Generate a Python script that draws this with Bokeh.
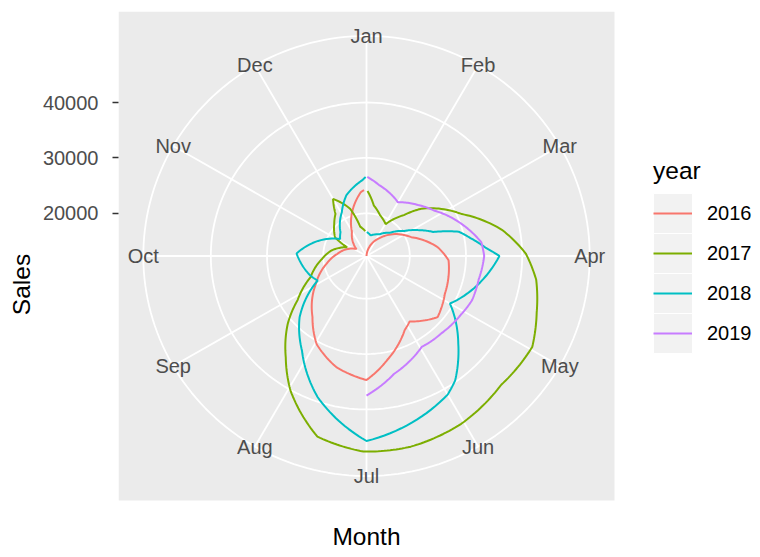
import numpy as np
from bokeh.plotting import figure
from bokeh.models import Range1d, LinearAxis, FixedTicker, Legend, LegendItem
from bokeh.core.properties import value
from bokeh.embed import file_html
from bokeh.resources import INLINE

# ---------------- data ----------------
month_labels = ["Jan", "Feb", "Mar", "Apr", "May", "Jun",
                "Jul", "Aug", "Sep", "Oct", "Nov", "Dec"]
years = ["2016", "2017", "2018", "2019"]
colors = ["#F8766D", "#7CAE00", "#00BFC4", "#C77CFF"]
sales_breaks = [20000, 30000, 40000]

month_2016 = [1.10, 2.23, 3.23, 3.77, 4.10, 4.87, 5.37, 5.90, 6.10, 6.63, 7.00,
              7.50, 7.97, 8.37, 9.03, 9.63, 10.13, 11.17, 11.97, 12.40, 12.83, 12.93]
sales_2016 = [12300, 16450, 20960, 25120, 26920, 27820, 29090, 26380, 27280, 31430, 34680,
              33060, 30530, 26920, 22590, 19520, 17530, 14470, 17350, 20600, 23850, 24210]

month_2017 = [1.03, 1.27, 1.60, 2.02, 2.40, 2.63, 3.20, 3.63, 3.97, 4.27, 4.62, 4.97,
              5.47, 6.03, 6.57, 7.03, 7.50, 7.97, 8.27, 8.63, 8.90, 9.30, 9.87, 10.30,
              10.82, 11.03, 11.50, 11.80, 12.00, 12.37, 12.60, 12.90]
sales_2017 = [24030, 21510, 20060, 18980, 22230, 25300, 30890, 36850, 40640, 42800, 44250, 46050,
              45690, 46960, 47600, 47600, 46050, 40100, 35580, 30890, 26920, 22950, 20240, 18620,
              16090, 18800, 20420, 21690, 24210, 21330, 17720, 16810]

month_2018 = [1.03, 1.37, 2.00, 2.50, 2.87, 3.10, 3.33, 3.50, 3.67, 3.87, 4.00, 5.00,
              5.47, 5.83, 6.00, 7.00, 7.63, 8.13, 8.57, 9.10, 9.37, 10.07, 11.10, 11.43,
              12.03, 12.40, 12.90, 12.98]
sales_2018 = [16630, 16090, 16810, 18260, 20420, 22590, 24940, 29270, 31070, 33600, 35950, 29450,
              35040, 39740, 41180, 45690, 39190, 32880, 28550, 22050, 22950, 24750, 17900, 18620,
              21330, 23850, 26020, 26560]

month_2019 = [1.02, 1.33, 2.00, 2.50, 2.87, 3.37, 3.77, 4.00, 4.40, 4.77, 5.07, 5.53,
              5.97, 6.57, 7.00]
sales_2019 = [26560, 25300, 23490, 25300, 26920, 30170, 32880, 33240, 32700, 32700, 32160, 31610,
              31430, 34140, 37480]

series_months = [month_2016, month_2017, month_2018, month_2019]
series_sales = [sales_2016, sales_2017, sales_2018, sales_2019]

# ---------------- layout constants ----------------
FONT = "Liberation Sans"
FIG_W, FIG_H = 760, 557
FRAME_LEFT, FRAME_TOP = 118, 11
PANEL_W, PANEL_H = 496, 489
frame_w = FIG_W - FRAME_LEFT
frame_h = FIG_H - FRAME_TOP
Y0 = -(frame_h - PANEL_H) / PANEL_H      # data y at bottom of frame
X1 = frame_w / PANEL_W                    # data x at right of frame

all_sales = np.concatenate([np.asarray(s, float) for s in series_sales])
vmin, vmax = all_sales.min(), all_sales.max()


def rad(s):
    return 0.4 * (np.asarray(s, float) - vmin) / (vmax - vmin)


def theta(m):
    return (np.asarray(m, float) - 1.0) / 12.0 * 2 * np.pi


def to_xy(a, r):
    return 0.5 + r * np.sin(a), 0.5 + r * np.cos(a)


def polar_path(ms, ss, n=16):
    a, r = theta(ms), rad(ss)
    aa, rr = [], []
    for i in range(len(a) - 1):
        t = np.linspace(0, 1, n, endpoint=False)
        aa.append(a[i] + (a[i + 1] - a[i]) * t)
        rr.append(r[i] + (r[i + 1] - r[i]) * t)
    aa.append([a[-1]])
    rr.append([r[-1]])
    return to_xy(np.concatenate(aa), np.concatenate(rr))


p = figure(width=FIG_W, height=FIG_H, output_backend="svg", toolbar_location=None,
           x_range=Range1d(0, X1), y_range=Range1d(Y0, 1),
           x_axis_location=None, y_axis_location=None,
           min_border=0, min_border_left=FRAME_LEFT, min_border_top=FRAME_TOP,
           min_border_right=0, min_border_bottom=0)
p.outline_line_color = None
p.xgrid.visible = False
p.ygrid.visible = False
p.background_fill_color = "white"
p.border_fill_color = "white"

# panel background
p.quad(left=[0], right=[1], bottom=[0], top=[1], fill_color="#EBEBEB", line_color=None)

# radial grid circles (breaks + outer ring at 0.45)
tf = np.linspace(0, 2 * np.pi, 200)
for rc in list(rad(sales_breaks)) + [0.45]:
    cx, cy = to_xy(tf, rc)
    p.line(cx, cy, line_color="white", line_width=1.8)

# spokes
ang = theta(np.arange(1, 13))
sx, sy = to_xy(ang, 0.45)
p.segment(x0=[0.5] * 12, y0=[0.5] * 12, x1=sx, y1=sy, line_color="white", line_width=1.8)

# data lines
renderers = []
for ms, ss, col in zip(series_months, series_sales, colors):
    lx, ly = polar_path(ms, ss)
    renderers.append(p.line(lx, ly, line_color=col, line_width=2))

# month labels
lx, ly = to_xy(ang, 0.45)
p.text(x=lx, y=ly, text=month_labels, text_align="center", text_baseline="middle",
       text_font=value(FONT), text_font_size=value("20px"), text_color="#4D4D4D")

# x title
p.text(x=[0.5], y=[Y0 + 21 / PANEL_H], text=["Month"], text_align="center",
       text_baseline="middle", text_font=value(FONT), text_font_size=value("24.5px"),
       text_color="black")

# radial (Sales) axis
s_lo = vmin + (Y0 - 0.5) / 0.4 * (vmax - vmin)
s_hi = vmin + (1 - 0.5) / 0.4 * (vmax - vmin)
p.extra_y_ranges = {"sales": Range1d(s_lo, s_hi)}
ax = LinearAxis(y_range_name="sales", ticker=FixedTicker(ticks=sales_breaks),
                axis_label="Sales")
ax.axis_line_color = None
ax.major_tick_in = 0
ax.major_tick_out = 6
ax.major_tick_line_color = "#333333"
ax.major_tick_line_width = 1.5
ax.minor_tick_out = 0
ax.minor_tick_in = 0
ax.major_label_standoff = 14
ax.major_label_text_font = FONT
ax.major_label_text_font_size = "20px"
ax.major_label_text_color = "#4D4D4D"
ax.axis_label_text_font = FONT
ax.axis_label_text_font_size = "24.5px"
ax.axis_label_text_font_style = "normal"
ax.axis_label_text_color = "black"
ax.axis_label_standoff = 5
p.add_layout(ax, "left")

# legend key backgrounds
KEY_X, KEY_Y, KEY_W, KEY_H = 535, 204, 39, 40   # frame px (x from left, y from bottom)
for i in range(4):
    b = KEY_Y + (3 - i) * KEY_H
    p.quad(left=[KEY_X / PANEL_W], right=[(KEY_X + KEY_W) / PANEL_W],
           bottom=[Y0 + b / PANEL_H], top=[Y0 + (b + KEY_H) / PANEL_H],
           fill_color="#F2F2F2", line_color="white", line_width=1)

legend = Legend(items=[LegendItem(label=y, renderers=[r]) for y, r in zip(years, renderers)],
                location=(KEY_X, KEY_Y), title="year")
legend.glyph_width = KEY_W
legend.glyph_height = KEY_H
legend.label_height = KEY_H
legend.spacing = 0
legend.padding = 0
legend.margin = 0
legend.label_standoff = 15
legend.border_line_color = None
legend.background_fill_alpha = 0
legend.label_text_font = FONT
legend.label_text_font_size = "20px"
legend.label_text_color = "black"
legend.title_text_font = FONT
legend.title_text_font_size = "24.5px"
legend.title_text_font_style = "normal"
legend.title_text_color = "black"
legend.title_standoff = 8
p.add_layout(legend)

open("out.html", "w").write(file_html(p, INLINE))
